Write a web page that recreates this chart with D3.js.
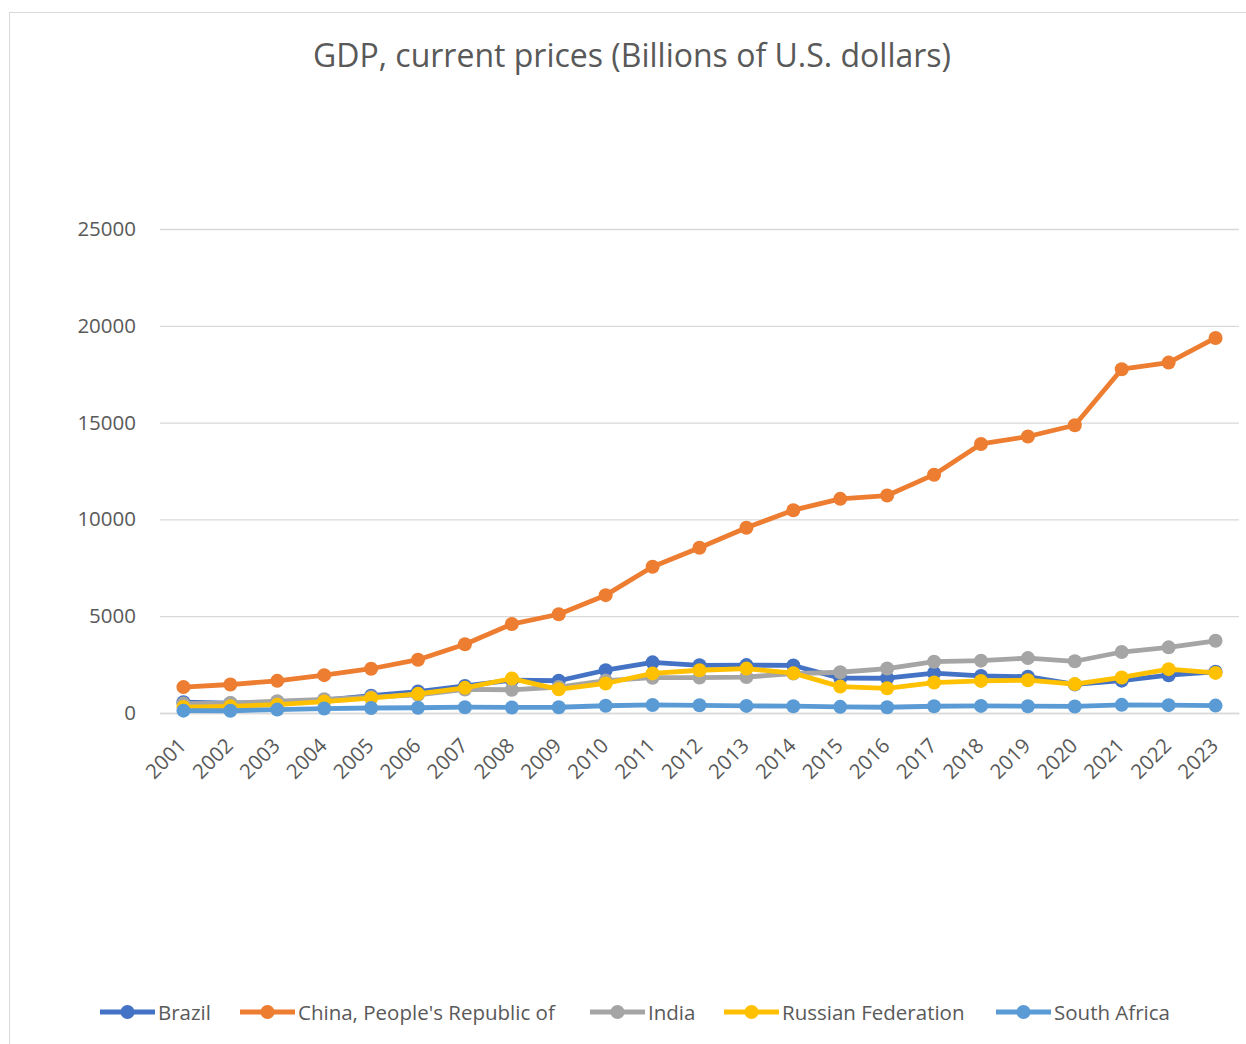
<!DOCTYPE html>
<html><head><meta charset="utf-8">
<script src="https://cdn.jsdelivr.net/npm/d3@7"></script>
<style>body{margin:0;background:#fff}svg{display:block}text{font-family:"Open Sans","Noto Sans",sans-serif}</style>
</head><body>
<script>
const years = ["2001","2002","2003","2004","2005","2006","2007","2008","2009","2010","2011","2012","2013","2014","2015","2016","2017","2018","2019","2020","2021","2022","2023"];
const brazil = [559,509,558,669,892,1108,1397,1696,1667,2209,2616,2465,2473,2456,1802,1796,2064,1917,1873,1476,1670,1951,2130];
const china = [1339,1471,1660,1955,2286,2752,3550,4594,5102,6087,7552,8532,9570,10476,11062,11233,12310,13895,14280,14862,17759,18100,19370];
const india = [485,515,608,709,820,940,1217,1199,1342,1676,1823,1828,1857,2039,2104,2295,2651,2703,2836,2672,3150,3390,3730];
const russia = [307,345,430,591,764,990,1300,1780,1223,1525,2046,2208,2293,2059,1363,1277,1574,1657,1693,1493,1837,2266,2070];
const southAfrica = [121,116,176,229,258,272,299,287,298,375,417,397,367,351,318,296,349,368,351,338,420,405,381];
const seriesNames = ["Brazil","China, People's Republic of","India","Russian Federation","South Africa"];
const seriesValues = [brazil, china, india, russia, southAfrica];
const colors = ["#4472C4","#ED7D31","#A5A5A5","#FFC000","#5B9BD5"];
const yTicks = [0,5000,10000,15000,20000,25000];

const W=1246,H=1044;
const svg=d3.select("body").append("svg").attr("width",W).attr("height",H);
svg.append("rect").attr("x",9.5).attr("y",12.5).attr("width",W).attr("height",H).attr("fill","#fff").attr("stroke","#d9d9d9");

const pLeft=160,pRight=1239,pTop=229,pBottom=713;
const x=d3.scaleBand().domain(years).range([pLeft,pRight]);
const y=d3.scaleLinear().domain([0,25000]).range([pBottom,pTop]);

svg.append("text").attr("x",632).attr("y",67).attr("text-anchor","middle")
  .attr("font-size",32).attr("fill","#595959").text("GDP, current prices (Billions of U.S. dollars)");

const yAxis=d3.axisLeft(y).tickValues(yTicks).tickSize(-(pRight-pLeft)).tickFormat(d3.format("d"));
const gy=svg.append("g").attr("transform",`translate(${pLeft},0)`).call(yAxis);
gy.select(".domain").remove();
gy.selectAll(".tick line").attr("stroke","#d9d9d9").attr("stroke-width",1.3);
gy.selectAll(".tick text").attr("x",-24).attr("font-size",20.5).attr("fill","#595959");

const xAxis=d3.axisBottom(x).tickSize(0);
const gx=svg.append("g").attr("transform",`translate(0,${pBottom})`).call(xAxis);
gx.select(".domain").attr("stroke","#d9d9d9").attr("stroke-width",1.3);
gx.selectAll(".tick text").attr("font-size",20.5).attr("fill","#595959")
  .attr("text-anchor","end").attr("dy",0).attr("y",0).attr("dx",0)
  .attr("transform","translate(4,34) rotate(-45)");

const line=d3.line().x((d,i)=>x(years[i])+x.bandwidth()/2).y(d=>y(d));
seriesValues.forEach((vals,k)=>{
  const g=svg.append("g");
  g.append("path").datum(vals).attr("d",line).attr("fill","none")
    .attr("stroke",colors[k]).attr("stroke-width",4.8).attr("stroke-linejoin","round");
  g.selectAll("circle").data(vals).join("circle")
    .attr("cx",(d,i)=>x(years[i])+x.bandwidth()/2).attr("cy",d=>y(d)).attr("r",7)
    .attr("fill",colors[k]);
});

const legX=[100,240,590,724,996];
seriesNames.forEach((n,k)=>{
  const g=svg.append("g").attr("transform",`translate(${legX[k]},1012)`);
  g.append("line").attr("x1",0).attr("x2",55).attr("stroke",colors[k]).attr("stroke-width",4.8);
  g.append("circle").attr("cx",27.5).attr("r",7).attr("fill",colors[k]);
  g.append("text").attr("x",58).attr("y",7.5).attr("font-size",20.5).attr("fill","#595959").text(n);
});
</script>
</body></html>
